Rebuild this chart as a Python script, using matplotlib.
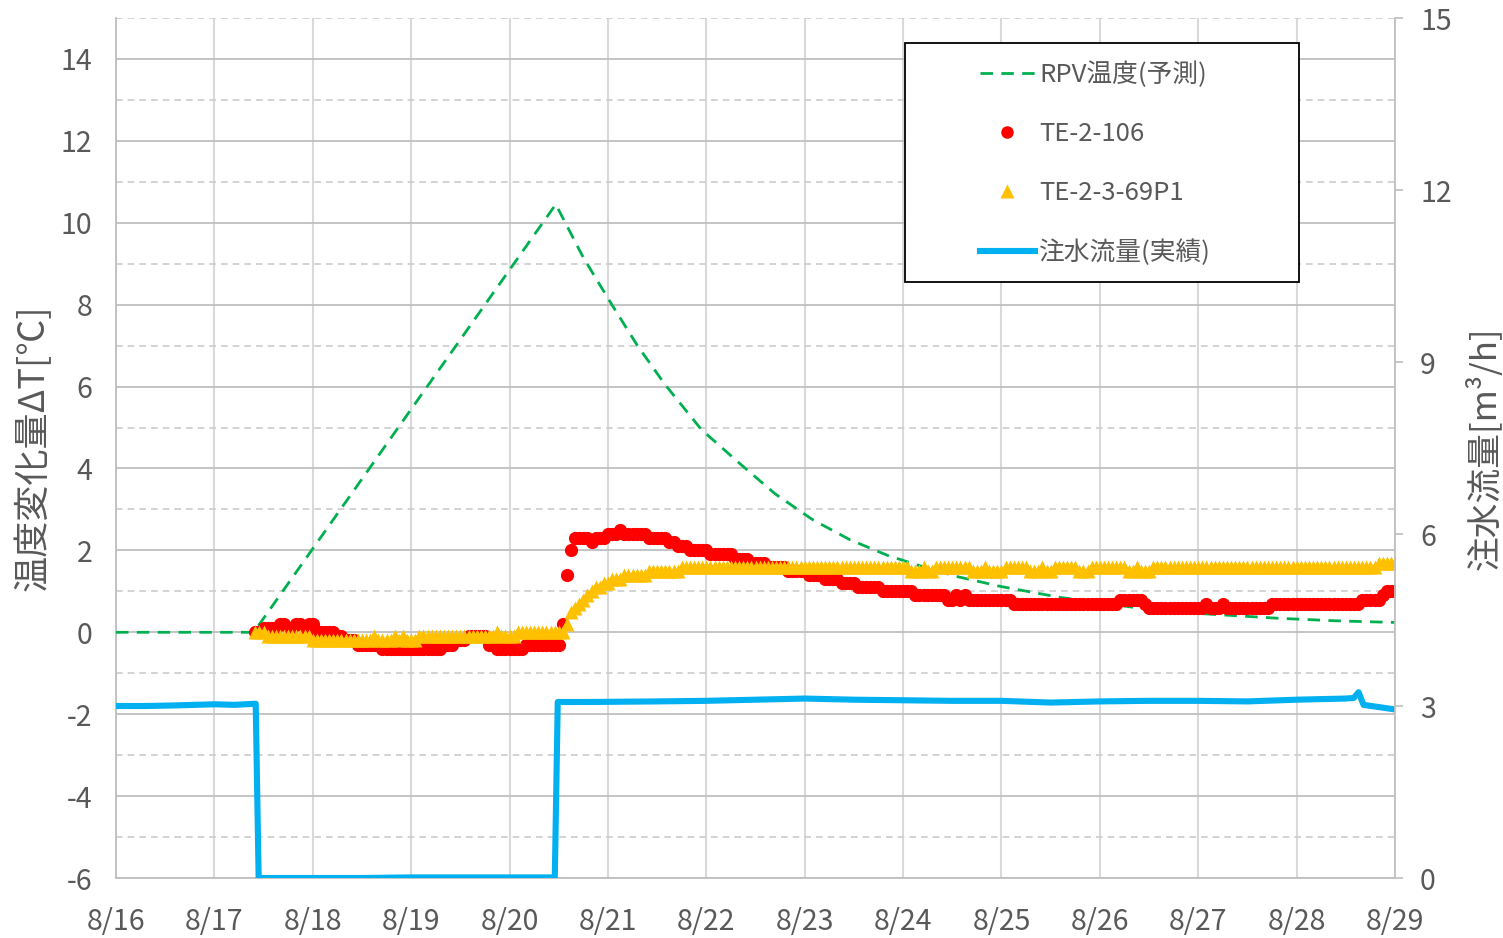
import numpy as np
import matplotlib
matplotlib.use("Agg")
import matplotlib.pyplot as plt
from matplotlib.patches import Rectangle

plt.rcParams['font.family'] = ['Noto Sans CJK JP', 'DejaVu Sans']
plt.rcParams['axes.unicode_minus'] = False

dates = ['8/16', '8/17', '8/18', '8/19', '8/20', '8/21', '8/22',
         '8/23', '8/24', '8/25', '8/26', '8/27', '8/28', '8/29']

# RPV温度(予測): days since 8/16 0:00, temperature change
rpv_day = [0.0, 1.40, 4.47, 4.75, 5.04, 5.30, 5.58, 5.95, 6.35, 6.70,
           7.08, 7.46, 7.84, 8.20, 8.55, 8.99, 9.60, 10.34, 11.00, 11.83,
           12.40, 13.0]
rpv_dt = [0.0, 0.0, 10.45, 9.15, 8.0, 7.0, 6.05, 4.95, 4.1, 3.38,
          2.75, 2.26, 1.88, 1.60, 1.36, 1.12, 0.85, 0.61, 0.46, 0.34,
          0.28, 0.24]

# hourly readings from 8/17 10:00, kept as (value, number of hours)
sensor_start = 1 + 10 / 24
te106_runs = [(0.0, 2), (0.1, 4), (0.2, 2), (0.1, 2), (0.2, 2), (0.1, 1),
              (0.2, 2), (0.0, 5), (-0.1, 2), (-0.2, 3), (-0.3, 6),
              (-0.4, 15), (-0.3, 3), (-0.2, 3), (-0.1, 5), (-0.3, 2),
              (-0.4, 7), (-0.3, 9), (0.2, 1), (1.4, 1), (2.0, 1),
              (2.3, 4), (2.2, 1), (2.3, 3), (2.4, 3), (2.5, 1), (2.4, 6),
              (2.3, 5), (2.2, 2), (2.1, 3), (2.0, 5), (1.9, 6), (1.8, 4),
              (1.7, 4), (1.6, 5), (1.5, 5), (1.4, 4), (1.3, 4), (1.2, 4),
              (1.1, 6), (1.0, 8), (0.9, 8), (0.8, 2), (0.9, 1), (0.8, 1),
              (0.9, 1), (0.8, 11), (0.7, 26), (0.8, 6), (0.7, 1),
              (0.6, 14), (0.7, 1), (0.6, 3), (0.7, 1), (0.6, 11),
              (0.7, 22), (0.8, 5), (0.9, 1), (1.0, 3)]
te369_runs = [(0.0, 3), (-0.1, 11), (-0.2, 15), (-0.1, 1), (-0.2, 4),
              (-0.1, 1), (-0.2, 1), (-0.1, 1), (-0.2, 3), (-0.1, 19),
              (0.0, 1), (-0.1, 4), (0.0, 12), (0.2, 1), (0.5, 1),
              (0.6, 1), (0.7, 1), (0.8, 1), (0.9, 1), (1.0, 1), (1.1, 2),
              (1.2, 2), (1.3, 3), (1.4, 6), (1.5, 8), (1.6, 56),
              (1.5, 3), (1.6, 1), (1.5, 2), (1.6, 9), (1.5, 3), (1.6, 1),
              (1.5, 4), (1.6, 6), (1.5, 3), (1.6, 1), (1.5, 2), (1.6, 6),
              (1.5, 3), (1.6, 9), (1.5, 2), (1.6, 1), (1.5, 3), (1.6, 55),
              (1.7, 5)]

# 注水流量(実績) [m3/h]
flow_day = [0.0, 0.3, 0.6, 1.0, 1.2, 1.42, 1.45, 2.5, 3.0, 4.46, 4.49,
            4.8, 5.5, 6.0, 6.5, 7.0, 7.5, 8.0, 8.5, 9.0, 9.5, 10.0, 10.5,
            11.0, 11.5, 12.0, 12.5, 12.58, 12.63, 12.68, 13.0]
flow_rate = [3.0, 3.0, 3.01, 3.03, 3.02, 3.04, 0.0, 0.0, 0.01, 0.01, 3.07,
             3.07, 3.08, 3.09, 3.11, 3.13, 3.11, 3.10, 3.09, 3.09, 3.06,
             3.08, 3.09, 3.09, 3.08, 3.11, 3.13, 3.14, 3.24, 3.02, 2.94]


def expand(runs):
    vals = np.repeat([v for v, n in runs], [n for v, n in runs])
    t = sensor_start + np.arange(len(vals)) / 24
    return t, vals


t106, v106 = expand(te106_runs)
t369, v369 = expand(te369_runs)

text_color = '#595959'
grid_color = '#d9d9d9'
axis_color = '#bfbfbf'

fig = plt.figure(figsize=(15.03, 9.38), dpi=100)
ax = fig.add_axes([116 / 1503, 1 - 878 / 938, 1279 / 1503, 860 / 938])
ax2 = ax.twinx()

l_rpv, = ax.plot(rpv_day, rpv_dt, color='#00B050', lw=2.0, dashes=(4.5, 3),
                 label='RPV温度(予測)', zorder=3)
l_106, = ax.plot(t106, v106, 'o', color='#FF0000', ms=9.5, mec='none',
                 label='TE-2-106', zorder=4)
l_369, = ax.plot(t369, v369, '^', color='#FFC000', ms=10, mec='none',
                 label='TE-2-3-69P1', zorder=5)
l_flow, = ax2.plot(flow_day, flow_rate, color='#00B0F0', lw=4.4,
                   solid_joinstyle='round', label='注水流量(実績)')

ax.set_xlim(0, 13)
ax.set_ylim(-6, 15)
ax.set_xticks(range(14))
ax.set_xticklabels(dates)
ax.set_yticks(range(-6, 15, 2))
ax.set_yticks(range(-5, 16, 2), minor=True)
ax.tick_params(axis='both', which='both', length=0, labelsize=20.5,
               labelcolor=text_color)
ax.tick_params(axis='x', pad=21)
ax.tick_params(axis='y', pad=17)
ax.grid(axis='x', color=grid_color, lw=1.5)
ax.grid(axis='y', which='major', color=axis_color, lw=1.3)
ax.grid(axis='y', which='minor', color='#cccccc', lw=1.2, dashes=(4, 3))
ax.set_axisbelow(True)
for side in ('top', 'right'):
    ax.spines[side].set_visible(False)
for side in ('left', 'bottom'):
    ax.spines[side].set_color(axis_color)
    ax.spines[side].set_linewidth(1.3)

ax2.set_ylim(0, 15)
ax2.set_yticks(range(0, 16, 3))
ax2.tick_params(axis='y', direction='out', length=6, width=1.2,
                color=axis_color, labelsize=20.5, labelcolor=text_color,
                pad=12)
for side in ('top', 'left', 'bottom'):
    ax2.spines[side].set_visible(False)
ax2.spines['right'].set_color(axis_color)
ax2.spines['right'].set_linewidth(1.3)

ax.set_ylabel('温度変化量ΔT[℃]', fontsize=26, color=text_color)
ax2.set_ylabel('注水流量[m³/h]', fontsize=25, color=text_color, rotation=90)
ax.yaxis.set_label_coords(-0.050, 0.5)
ax2.yaxis.set_label_coords(1.056, 0.5)

# legend box with its own frame
fig.add_artist(Rectangle((905 / 1503, 1 - 282 / 938), 394 / 1503, 239 / 938,
                         transform=fig.transFigure, facecolor='white',
                         edgecolor='black', lw=1.3, zorder=4))
fig.legend(handles=[l_rpv, l_106, l_369, l_flow], loc='upper left',
           bbox_to_anchor=(967 / 1503, 1 - 49 / 938), frameon=False,
           fontsize=18.5, labelcolor=text_color, handlelength=2.15,
           handletextpad=0.15, labelspacing=1.28, borderpad=0,
           markerscale=0.95)

fig.savefig('out.png', dpi=100)
